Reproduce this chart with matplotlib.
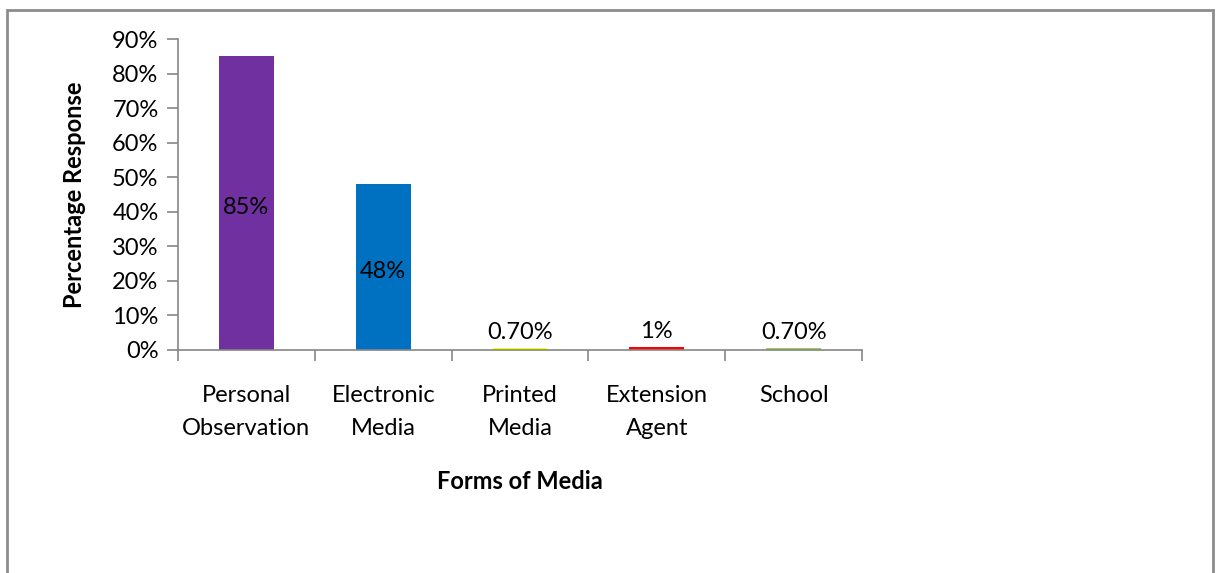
import numpy as np
import matplotlib.pyplot as plt
from matplotlib.patches import Rectangle

categories = ["Personal\nObservation", "Electronic\nMedia", "Printed\nMedia", "Extension\nAgent", "School"]
values = [0.85, 0.48, 0.007, 0.01, 0.007]
labels = ["85%", "48%", "0.70%", "1%", "0.70%"]
colors = ["#7030A0", "#0070C0", "#FFFF00", "#FF0000", "#92D050"]

plt.rcParams['font.family'] = ['Lato', 'DejaVu Sans']
fs = 17

fig = plt.figure(figsize=(12.19, 5.73), dpi=100)
ax = fig.add_axes([178/1219, 1 - 350/573, (862-178)/1219, (350-39)/573])

# chart frame
fig.patches.append(Rectangle((7/1219, -0.05), (1213-7)/1219, 1.05 - 10/573,
                             transform=fig.transFigure, fill=False,
                             edgecolor="#8c8c8c", linewidth=2))

x = np.arange(len(categories))
ax.bar(x, values, width=0.4, color=colors)

for i, (v, lab) in enumerate(zip(values, labels)):
    if v > 0.1:
        ax.text(i, v/2 - 0.012, lab, ha='center', va='center', fontsize=fs)
    else:
        ax.text(i, v + 0.014, lab, ha='center', va='bottom', fontsize=fs)

ax.set_xlim(-0.5, len(categories) - 0.5)
ax.set_ylim(0, 0.9)
ax.set_yticks(np.arange(0, 0.91, 0.1))
ax.set_yticklabels([f"{int(round(t*100))}%" for t in np.arange(0, 0.91, 0.1)], fontsize=fs)

ax.set_xticks(x)
ax.set_xticklabels(categories, fontsize=fs, linespacing=1.75)
ax.set_xticks(np.arange(-0.5, len(categories)), minor=True)
ax.tick_params(axis='x', which='major', length=0, pad=25)
ax.tick_params(axis='x', which='minor', length=8, width=1.2, color="#868686", direction='out')
ax.tick_params(axis='y', length=8, width=1.2, color="#868686", direction='out', pad=6)

for s in ['top', 'right']:
    ax.spines[s].set_visible(False)
for s in ['left', 'bottom']:
    ax.spines[s].set_color("#868686")
    ax.spines[s].set_linewidth(1.2)

ax.set_ylabel("Percentage Response", fontsize=fs, fontweight='bold', labelpad=19)
ax.set_xlabel("Forms of Media", fontsize=fs, fontweight='bold', labelpad=22)

fig.savefig("out.png", dpi=100)
